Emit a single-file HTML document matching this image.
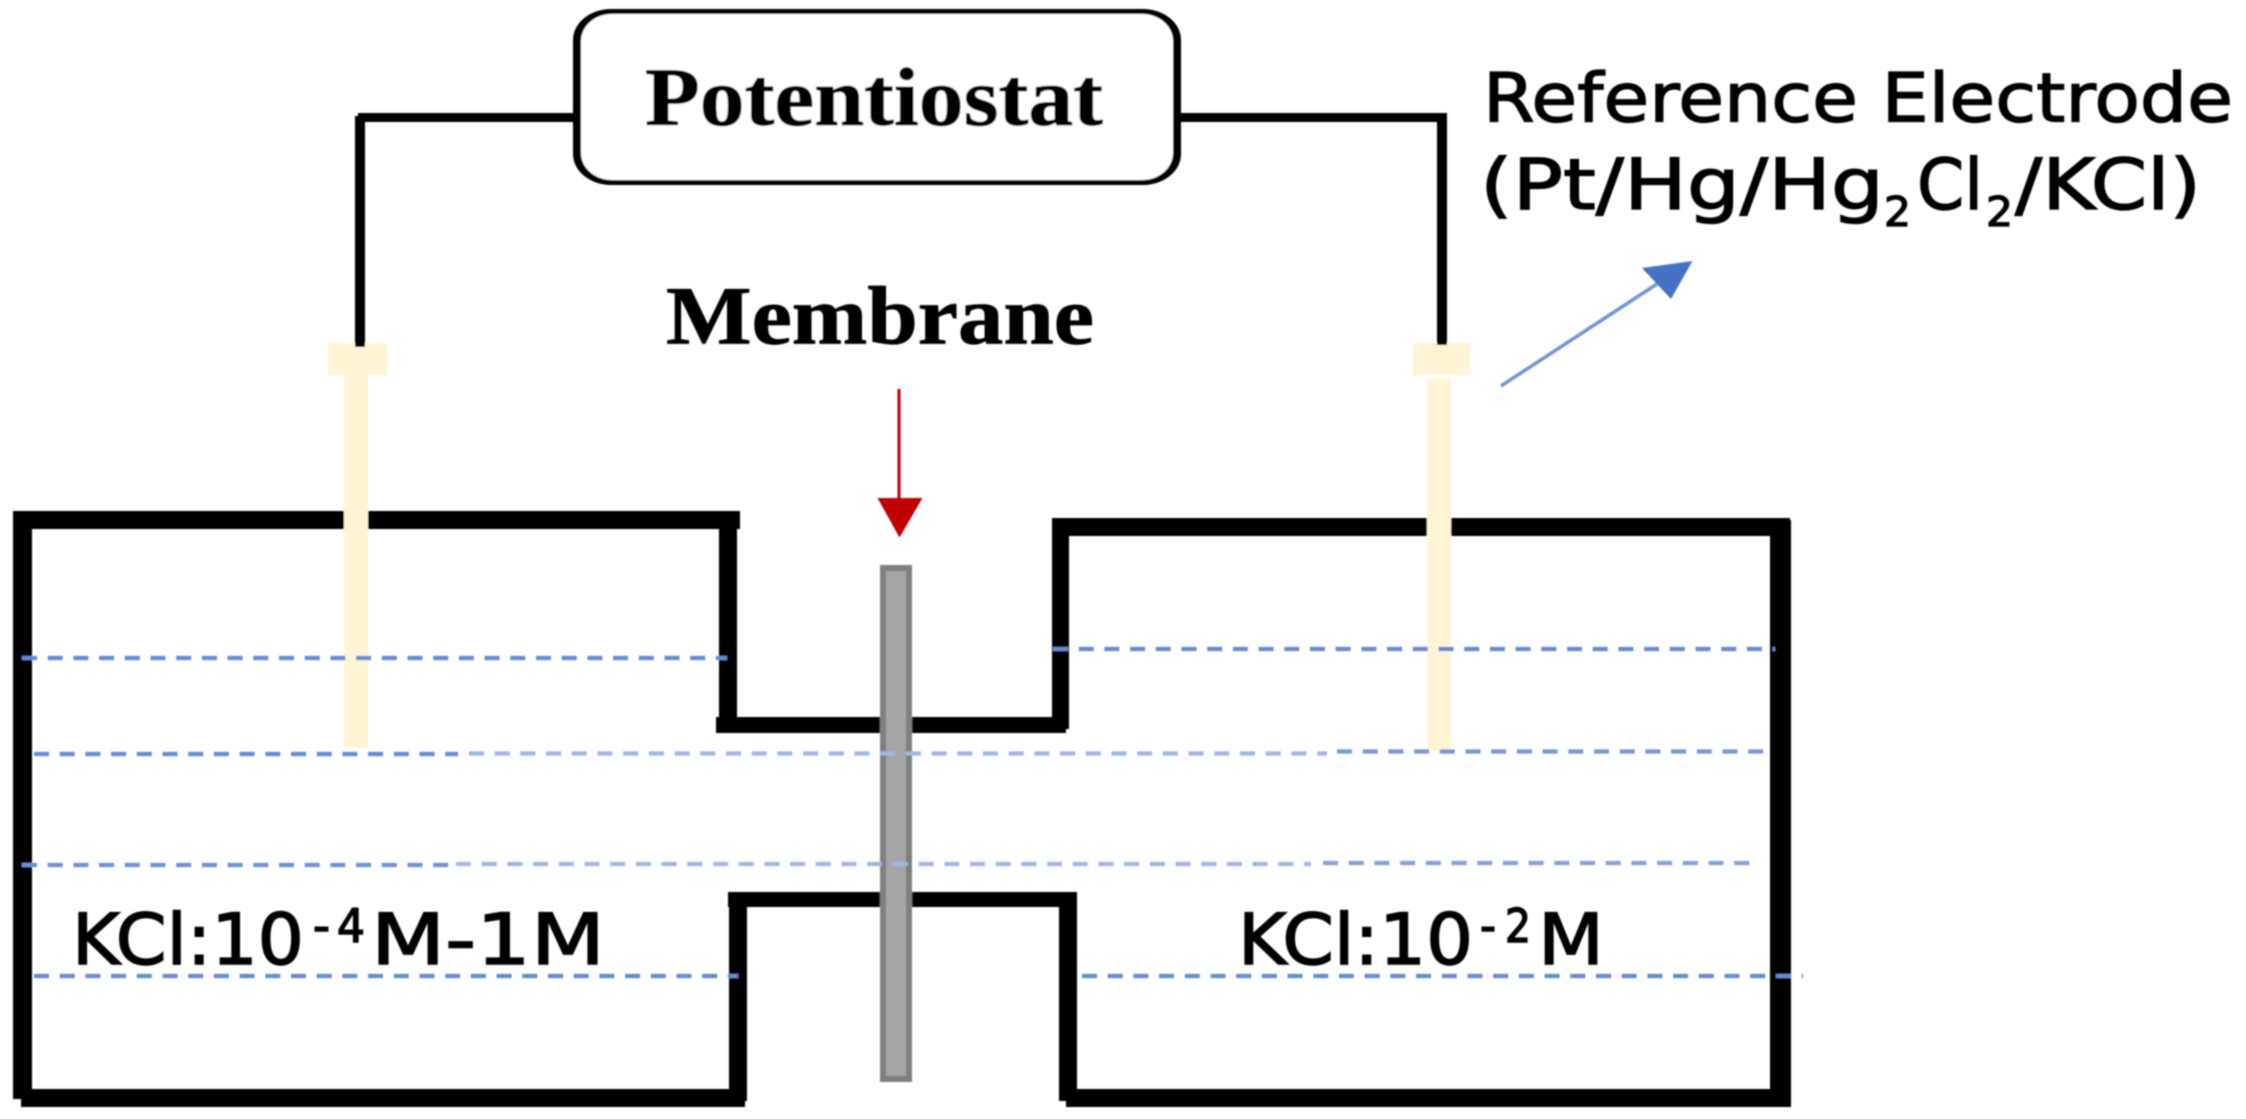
<!DOCTYPE html>
<html>
<head>
<meta charset="utf-8">
<style>
html,body{margin:0;padding:0;background:#fff;width:2246px;height:1119px;overflow:hidden}
svg{display:block}
.s{font-family:"Liberation Serif",serif;font-weight:bold;fill:#000;stroke:#000;stroke-width:0.8px}
.d{font-family:"DejaVu Sans",sans-serif;fill:#000;stroke:#000;stroke-width:1.3px}
.l{font-family:"DejaVu Sans",sans-serif;fill:#000;stroke:#000;stroke-width:1.5px}
</style>
</head>
<body>
<svg width="2246" height="1119" viewBox="0 0 2246 1119" xmlns="http://www.w3.org/2000/svg">
<defs>
<filter id="b" x="-5%" y="-5%" width="110%" height="110%"><feGaussianBlur stdDeviation="0.9"/></filter>
</defs>
<rect width="2246" height="1119" fill="#fff"/>
<g filter="url(#b)">
  <!-- cream electrode caps -->
  <rect x="328" y="343" width="59" height="32" fill="#FFF4D4"/>
  <rect x="1413" y="343" width="57" height="32" fill="#FFF4D4"/>
  <!-- wires -->
  <rect x="358" y="113" width="220" height="9" fill="#000"/>
  <rect x="355" y="116" width="10" height="231" fill="#000"/>
  <rect x="1175" y="113" width="272" height="9" fill="#000"/>
  <rect x="1437" y="116" width="10" height="229" fill="#000"/>
  <!-- potentiostat box -->
  <rect x="573" y="9" width="608" height="176" rx="38" ry="31" fill="#000"/>
  <rect x="581" y="14" width="592" height="166" rx="31" ry="27" fill="#fff"/>
  <!-- walls left chamber -->
  <rect x="13" y="511" width="727" height="18" fill="#000"/>
  <rect x="13" y="511" width="19" height="588" fill="#000"/>
  <rect x="21" y="1089" width="724" height="18" fill="#000"/>
  <rect x="719" y="511" width="18" height="222" fill="#000"/>
  <rect x="716" y="717" width="350" height="16" fill="#000"/>
  <rect x="1052" y="518" width="17" height="211" fill="#000"/>
  <!-- walls right chamber -->
  <rect x="1056" y="518" width="734" height="18" fill="#000"/>
  <rect x="1770" y="520" width="21" height="587" fill="#000"/>
  <rect x="1066" y="1089" width="725" height="18" fill="#000"/>
  <!-- lower notch -->
  <rect x="728" y="892" width="349" height="15" fill="#000"/>
  <rect x="729" y="892" width="18" height="209" fill="#000"/>
  <rect x="1059" y="892" width="18" height="209" fill="#000"/>
  <!-- cream stems -->
  <rect x="344" y="375" width="24" height="373" fill="#FFF4D4"/>
  <rect x="1427" y="379" width="24" height="372" fill="#FFF4D4"/>
  <!-- membrane -->
  <rect x="883" y="568" width="26" height="511" fill="#A5A5A5" stroke="#7F7F7F" stroke-width="6"/>
  <!-- dashed lines -->
  <g fill="none" stroke-width="4.2" stroke-dasharray="15 10.7">
    <path d="M22 658H727" stroke="#638AD4"/>
    <path d="M1053 649H1775" stroke="#638AD4"/>
    <path d="M34 754H458" stroke="#638AD4"/>
    <path d="M469 753.5H1327" stroke="#A0B6E4"/>
    <path d="M1337 751.5H1771" stroke="#7696D8"/>
    <path d="M22 865H451" stroke="#6F90D6"/>
    <path d="M456 864H1311" stroke="#A0B6E4"/>
    <path d="M1323 863H1757" stroke="#84A0DC"/>
    <path d="M34 976H738" stroke="#638AD4"/>
    <path d="M1082 976H1803" stroke="#638AD4"/>
  </g>
  <!-- red arrow -->
  <rect x="897.5" y="389" width="3" height="112" fill="#C00000"/>
  <polygon points="877.5,498 922.5,498 899.5,537.5" fill="#C00000"/>
  <!-- blue arrow -->
  <line x1="1501" y1="386" x2="1660" y2="282" stroke="#6F94D8" stroke-width="3.5"/>
  <polygon points="1692.5,261 1642,268 1671,299" fill="#4472C4"/>
  <!-- text -->
  <text class="s" x="645" y="125" font-size="83" textLength="458" lengthAdjust="spacingAndGlyphs">Potentiostat</text>
  <text class="s" x="666" y="343.5" font-size="83" textLength="428" lengthAdjust="spacingAndGlyphs">Membrane</text>
  <text class="d" x="1483" y="121.5" font-size="68" textLength="750" lengthAdjust="spacingAndGlyphs">Reference Electrode</text>
  <text class="d" x="1480" y="209" font-size="70" textLength="404" lengthAdjust="spacingAndGlyphs">(Pt/Hg/Hg</text>
  <text class="d" x="1884" y="226" font-size="41" textLength="27" lengthAdjust="spacingAndGlyphs">2</text>
  <text class="d" x="1917" y="209" font-size="70" textLength="66" lengthAdjust="spacingAndGlyphs">Cl</text>
  <text class="d" x="1986" y="226" font-size="41" textLength="27" lengthAdjust="spacingAndGlyphs">2</text>
  <text class="d" x="2015" y="209" font-size="70" textLength="186" lengthAdjust="spacingAndGlyphs">/KCl)</text>
  <text class="l" x="72" y="964" font-size="70" textLength="232" lengthAdjust="spacingAndGlyphs">KCl:10</text>
  <text class="l" x="313" y="942" font-size="46" textLength="17" lengthAdjust="spacingAndGlyphs">-</text>
  <text class="l" x="337" y="942" font-size="46" textLength="28" lengthAdjust="spacingAndGlyphs">4</text>
  <text class="l" x="371" y="964" font-size="70" textLength="234" lengthAdjust="spacingAndGlyphs">M-1M</text>
  <text class="l" x="1238" y="964" font-size="70" textLength="235" lengthAdjust="spacingAndGlyphs">KCl:10</text>
  <text class="l" x="1480" y="942" font-size="46" textLength="16" lengthAdjust="spacingAndGlyphs">-</text>
  <text class="l" x="1505" y="942" font-size="46" textLength="26" lengthAdjust="spacingAndGlyphs">2</text>
  <text class="l" x="1538" y="964" font-size="70" textLength="66" lengthAdjust="spacingAndGlyphs">M</text>
</g>
</svg>
</body>
</html>
